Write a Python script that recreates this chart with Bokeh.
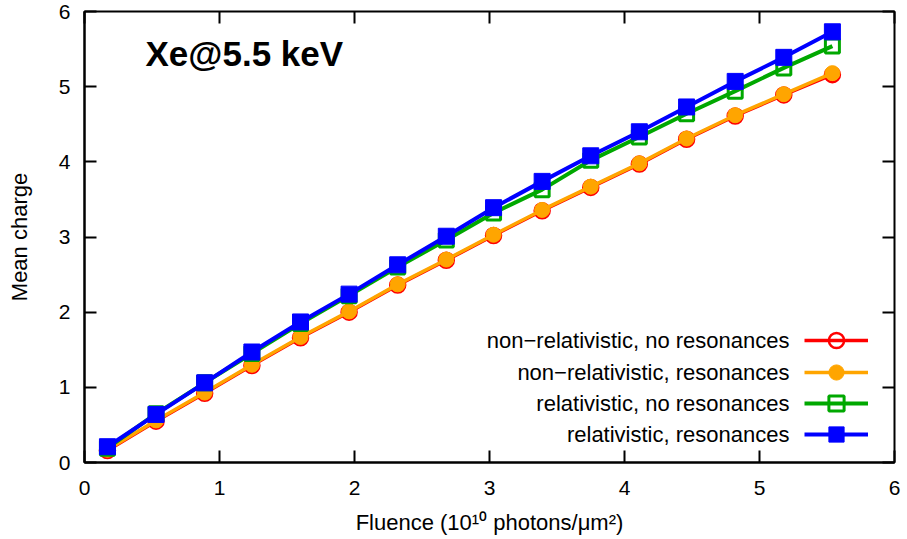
from bokeh.plotting import figure
from bokeh.models import Range1d, LinearAxis, Label, Legend, LegendItem, CustomJSTickFormatter, ColumnDataSource
from bokeh.embed import file_html
from bokeh.resources import INLINE

# ---- data ----
fluence = [0.17, 0.53, 0.89, 1.24, 1.60, 1.96, 2.32, 2.68, 3.03, 3.39, 3.75, 4.11, 4.46, 4.82, 5.18, 5.54]
nonrel_nores = [0.16, 0.55, 0.92, 1.29, 1.66, 2.00, 2.36, 2.69, 3.02, 3.35, 3.66, 3.97, 4.30, 4.61, 4.89, 5.16]
nonrel_res = [0.17, 0.56, 0.93, 1.30, 1.67, 2.01, 2.37, 2.70, 3.03, 3.36, 3.67, 3.98, 4.31, 4.62, 4.90, 5.18]
rel_nores = [0.19, 0.65, 1.06, 1.45, 1.85, 2.22, 2.60, 2.96, 3.32, 3.63, 4.02, 4.33, 4.64, 4.94, 5.25, 5.54]
rel_res = [0.21, 0.64, 1.06, 1.47, 1.87, 2.24, 2.63, 3.01, 3.39, 3.74, 4.08, 4.40, 4.73, 5.07, 5.39, 5.73]
series_names = ["non\u2212relativistic, no resonances", "non\u2212relativistic, resonances",
                "relativistic, no resonances", "relativistic, resonances"]
x_ticks = [0, 1, 2, 3, 4, 5, 6]
y_ticks = [0, 1, 2, 3, 4, 5, 6]
title_text = "Xe@5.5 keV"
x_label = "Fluence (10\u00b9\u2070 photons/\u03bcm\u00b2)"
y_label = "Mean charge"

FONT = "Liberation Sans"
TICK_FS = "21px"
LAB_FS = "22px"

p = figure(width=907, height=539, x_range=Range1d(0, 6), y_range=Range1d(0, 6),
           output_backend="svg", toolbar_location=None,
           min_border_left=84, min_border_right=13, min_border_top=11, min_border_bottom=77)
p.grid.visible = False
p.outline_line_color = "black"
p.outline_line_width = 2
p.background_fill_color = "white"
p.border_fill_color = "white"

for ax in (p.xaxis[0], p.yaxis[0]):
    ax.axis_line_width = 2
    ax.major_tick_in = 12
    ax.major_tick_out = 0
    ax.major_tick_line_width = 2
    ax.minor_tick_line_color = None
    ax.major_label_text_font = FONT
    ax.major_label_text_font_size = TICK_FS
    ax.major_label_text_color = "black"
    ax.axis_label_text_font = FONT
    ax.axis_label_text_font_size = LAB_FS
    ax.axis_label_text_font_style = "normal"
    ax.axis_label_text_color = "black"

p.xaxis.ticker = x_ticks
p.yaxis.ticker = y_ticks
p.xaxis.axis_label = x_label
p.yaxis.axis_label = y_label
p.xaxis.major_label_standoff = 18
p.xaxis.axis_label_standoff = 12
p.yaxis.major_label_standoff = 14
p.yaxis.axis_label_standoff = 24

# mirrored ticks on the top and right
for loc, tk in (("right", y_ticks), ("above", x_ticks)):
    ax = LinearAxis(ticker=tk, formatter=CustomJSTickFormatter(code="return ''"))
    ax.axis_line_color = None
    ax.major_tick_in = 12
    ax.major_tick_out = 0
    ax.major_tick_line_width = 2
    ax.minor_tick_line_color = None
    ax.major_label_standoff = 0
    ax.major_label_text_font_size = "0px"
    p.add_layout(ax, loc)

src = ColumnDataSource(dict(x=fluence, a=nonrel_nores, b=nonrel_res, c=rel_nores, d=rel_res))

# (column, colour, marker, fill, line width, marker outline width, marker size)
styles = [
    ("a", "#ff0000", "circle", None, 3.5, 2.5, 15),
    ("b", "#ffa500", "circle", "#ffa500", 3.5, 1, 15),
    ("c", "#00a800", "square", None, 4, 3, 14),
    ("d", "#0000ff", "square", "#0000ff", 4, 1, 16),
]

# legend rows: bottom of each one-row legend (frame px) and text y (data)
row_bottom = [103, 71, 40, 9]
row_text_y = [1.623, 1.201, 0.781, 0.372]

for (col, color, marker, fill, lw, mlw, size), name, rb, ty in zip(styles, series_names, row_bottom, row_text_y):
    rl = p.line("x", col, source=src, line_color=color, line_width=lw)
    rm = p.scatter("x", col, source=src, marker=marker, size=size,
                   line_color=color, line_width=mlw, fill_color=fill)
    lg = Legend(items=[LegendItem(label=" ", renderers=[rl, rm])], location=(720, rb),
                glyph_width=64, glyph_height=38, spacing=0, label_width=0,
                label_height=20, label_standoff=0, label_text_font_size="1px",
                padding=0, margin=0, border_line_color=None, background_fill_alpha=0)
    p.add_layout(lg, "center")
    p.add_layout(Label(x=5.222, y=ty, text=name, text_align="right", text_baseline="middle",
                       text_font=FONT, text_font_size=LAB_FS, text_color="black"))

p.add_layout(Label(x=0.452, y=5.44, text=title_text, text_align="left", text_baseline="middle",
                   text_font=FONT, text_font_size="35px", text_font_style="bold", text_color="black"))

open("out.html", "w").write(file_html(p, INLINE))
